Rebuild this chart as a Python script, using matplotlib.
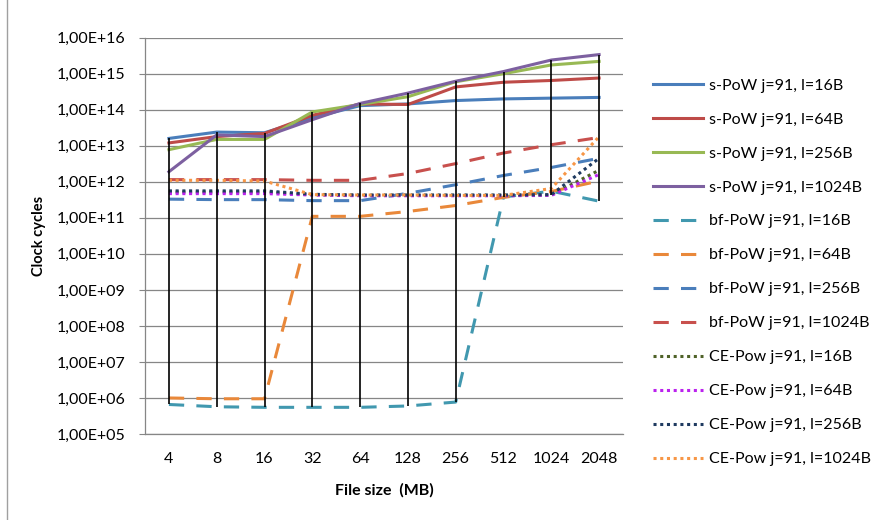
import numpy as np
import matplotlib
matplotlib.use('Agg')
import matplotlib.pyplot as plt
from matplotlib.ticker import FixedLocator, FuncFormatter, NullLocator

plt.rcParams['font.family'] = ['Lato', 'DejaVu Sans']

#Data
sizes = ['4', '8', '16', '32', '64', '128', '256', '512', '1024', '2048']
s_pow_16 = [1.6e13, 2.4e13, 2.3e13, 6.0e13, 1.3e14, 1.45e14, 1.8e14, 2.0e14, 2.1e14, 2.2e14]
s_pow_64 = [1.2e13, 1.8e13, 2.2e13, 7.0e13, 1.45e14, 1.4e14, 4.3e14, 5.8e14, 6.5e14, 7.6e14]
s_pow_256 = [7.8e12, 1.5e13, 1.5e13, 8.7e13, 1.4e14, 2.3e14, 6.0e14, 1.0e15, 1.75e15, 2.2e15]
s_pow_1024 = [1.9e12, 2.0e13, 1.8e13, 5.3e13, 1.5e14, 2.9e14, 6.2e14, 1.15e15, 2.4e15, 3.4e15]
bf_16 = [6.6e5, 5.7e5, 5.5e5, 5.5e5, 5.5e5, 6.0e5, 7.7e5, 3.8e11, 5.5e11, 2.9e11]
bf_64 = [1.0e6, 9.5e5, 9.5e5, 1.1e11, 1.1e11, 1.5e11, 2.2e11, 3.7e11, 5.4e11, 1.05e12]
bf_256 = [3.3e11, 3.2e11, 3.2e11, 3.0e11, 3.0e11, 4.8e11, 8.3e11, 1.5e12, 2.5e12, 4.5e12]
bf_1024 = [1.15e12, 1.15e12, 1.15e12, 1.1e12, 1.1e12, 1.7e12, 3.2e12, 6.3e12, 1.07e13, 1.7e13]
ce_16 = [5.2e11, 5.2e11, 5.2e11, 4.4e11, 4.2e11, 4.2e11, 4.2e11, 4.2e11, 4.3e11, 2.1e12]
ce_64 = [4.7e11, 4.7e11, 4.7e11, 4.3e11, 4.1e11, 4.1e11, 4.1e11, 4.1e11, 4.2e11, 1.6e12]
ce_256 = [5.6e11, 5.6e11, 5.6e11, 4.5e11, 4.3e11, 4.3e11, 4.3e11, 4.3e11, 4.4e11, 4.5e12]
ce_1024 = [1.1e12, 1.1e12, 1.05e12, 4.4e11, 4.3e11, 4.3e11, 4.2e11, 4.2e11, 6.5e11, 1.8e13]

series = [
    ('s-PoW j=91, l=16B', s_pow_16, '#4A7EBB', 'solid'),
    ('s-PoW j=91, l=64B', s_pow_64, '#BE4B48', 'solid'),
    ('s-PoW j=91, l=256B', s_pow_256, '#98B954', 'solid'),
    ('s-PoW j=91, l=1024B', s_pow_1024, '#7D60A0', 'solid'),
    ('bf-PoW j=91, l=16B', bf_16, '#4198AF', 'dash'),
    ('bf-PoW j=91, l=64B', bf_64, '#E9883A', 'dash'),
    ('bf-PoW j=91, l=256B', bf_256, '#4A7EBB', 'dash'),
    ('bf-PoW j=91, l=1024B', bf_1024, '#C8504D', 'dash'),
    ('CE-Pow j=91, l=16B', ce_16, '#4F6228', 'dot'),
    ('CE-Pow j=91, l=64B', ce_64, '#BB22EE', 'dot'),
    ('CE-Pow j=91, l=256B', ce_256, '#1F3A60', 'dot'),
    ('CE-Pow j=91, l=1024B', ce_1024, '#F79646', 'dot'),
]

W, H = 881, 520
fig = plt.figure(figsize=(W / 100, H / 100), dpi=100)
ax = fig.add_axes([145 / W, (H - 434) / H, (623 - 145) / W, (434 - 37.7) / H])

x = np.arange(len(sizes))
for name, vals, col, kind in series:
    line, = ax.plot(x, vals, color=col, lw=2.2, label=name, zorder=2)
    if kind == 'dash':
        line.set_dashes((5, 4))
        line.set_dash_capstyle('butt')
    elif kind == 'dot':
        line.set_dashes((1, 1.2))
        line.set_dash_capstyle('butt')

#high-low lines
allv = np.array([s[1] for s in series])
ax.vlines(x, allv.min(axis=0), allv.max(axis=0), color='black', lw=1.2, zorder=3)

ax.set_yscale('log')
ax.set_ylim(1e5, 1e16)
ax.set_xlim(-0.5, len(sizes) - 0.5)
ax.yaxis.set_major_locator(FixedLocator([10.0 ** k for k in range(5, 17)]))
ax.yaxis.set_minor_locator(NullLocator())
ax.yaxis.set_major_formatter(FuncFormatter(lambda v, p: '1,00E+%02d' % round(np.log10(v))))
ax.set_xticks(x)
ax.set_xticklabels(sizes)
ax.grid(axis='y', color='#868686', lw=0.9)
ax.set_axisbelow(True)
for s in ['top', 'right']:
    ax.spines[s].set_visible(False)
for s in ['left', 'bottom']:
    ax.spines[s].set_color('#868686')
    ax.spines[s].set_linewidth(0.9)
ax.tick_params(axis='y', length=4, color='#868686', labelsize=11.5, pad=10)
ax.tick_params(axis='x', length=0, labelsize=11.5, pad=13)

ax.set_xlabel('File size  (MB)', fontsize=11.5, fontweight='bold', labelpad=12)
ax.set_ylabel('Clock cycles', fontsize=10.5, fontweight='bold', labelpad=8)

leg = ax.legend(loc='upper left', bbox_to_anchor=(639 / W, 1 - 64 / H),
                bbox_transform=fig.transFigure, frameon=False, fontsize=11.5,
                handlelength=3.1, handletextpad=0.4, labelspacing=1.24)

#chart area border on the left
fig.add_artist(plt.Line2D([7 / W, 7 / W], [0, 1], transform=fig.transFigure,
                          color='#A0A0A0', lw=1))

plt.savefig('out.png', dpi=100)
